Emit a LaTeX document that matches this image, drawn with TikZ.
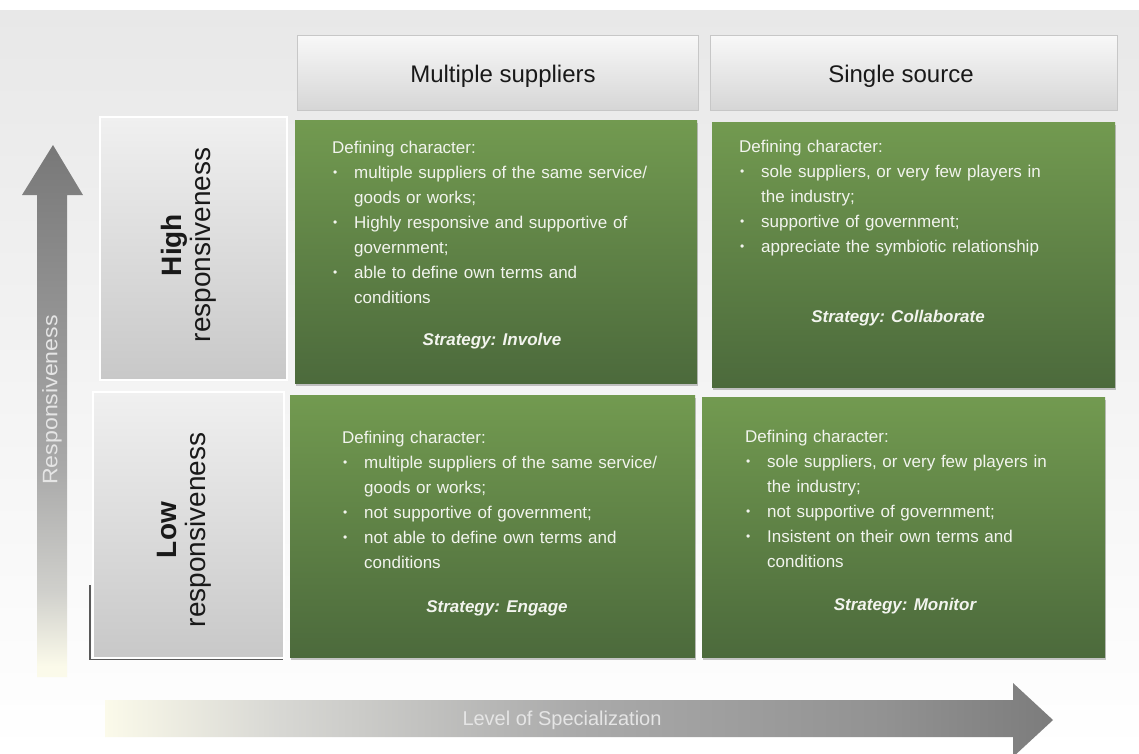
\documentclass[tikz,border=0pt]{standalone}
\usepackage{fontspec}
\setmainfont{Liberation Sans}
\usetikzlibrary{shadows}
\definecolor{bgtop}{RGB}{232,232,232}
\definecolor{gtop}{RGB}{114,154,80}
\definecolor{gbot}{RGB}{76,106,60}
\definecolor{txtw}{RGB}{242,244,238}
\definecolor{creamc}{RGB}{251,250,234}
\definecolor{ga}{RGB}{208,208,204}
\definecolor{gb}{RGB}{168,168,168}
\definecolor{gc}{RGB}{142,142,142}
\definecolor{gd}{RGB}{120,120,120}
\definecolor{ha}{RGB}{216,216,212}
\definecolor{hb}{RGB}{170,170,170}
\definecolor{hc}{RGB}{146,146,146}
\definecolor{hd}{RGB}{124,124,124}
\definecolor{hdrtop}{RGB}{248,248,248}
\definecolor{hdrbot}{RGB}{214,214,214}
\definecolor{lbltop}{RGB}{240,240,240}
\definecolor{lblbot}{RGB}{200,200,200}
\pgfdeclareverticalshading{vfade}{100bp}{color(0bp)=(creamc); color(26bp)=(creamc); color(33bp)=(ga); color(45bp)=(gb); color(62bp)=(gc); color(75bp)=(gd); color(100bp)=(gd)}
\pgfdeclarehorizontalshading{hfade}{100bp}{color(0bp)=(creamc); color(25bp)=(creamc); color(34bp)=(ha); color(50bp)=(hb); color(66bp)=(hc); color(75bp)=(hd); color(100bp)=(hd)}
\newcommand\bul{\par\hangindent=22pt\hangafter=1\noindent\makebox[22pt][l]{\hspace{1pt}\raisebox{1.5pt}{\fontsize{12}{12}\selectfont\textbullet}}}
\newcommand\nl{\hfil\break}
\begin{document}
\begin{tikzpicture}[x=1pt,y=-1pt,
  hdrbox/.style={rectangle, inner sep=0, top color=hdrtop, bottom color=hdrbot, draw=black!22, line width=0.8pt},
  lblbox/.style={rectangle, inner sep=0, top color=lbltop, bottom color=lblbot, draw=white, line width=1.5pt},
  greenbox/.style={rectangle, inner sep=0, top color=gtop, bottom color=gbot, drop shadow={shadow xshift=1pt, shadow yshift=-2.5pt, opacity=0.45}},
  hdrtxt/.style={anchor=base, inner sep=0, text=black!90, font=\fontsize{24}{28}\selectfont},
  lbltxt/.style={rotate=90, align=center, inner sep=0, text=black!90, font=\fontsize{28}{29}\selectfont},
  body/.style={anchor=base west, text width=350, align=left, inner sep=0, text=txtw, font=\fontsize{17}{25}\selectfont},
  strat/.style={anchor=base, inner sep=0, text=txtw, font=\fontsize{17}{20}\selectfont\bfseries\itshape},
  arrtxt/.style={inner sep=0, text=white!90!black}
]
\useasboundingbox (0,0) rectangle (1139,753);
\clip (0,0) rectangle (1139,753);
\fill[white] (0,0) rectangle (1139,753);
\fill[top color=bgtop, bottom color=white] (0,10) rectangle (1139,753);

% arrows
\path[shading=vfade] (37,677) -- (37,195) -- (22,195) -- (53,145) -- (83,195) -- (67,195) -- (67,677) -- cycle;
\path[shading=hfade] (105,700) -- (1013,700) -- (1013,683) -- (1053,720) -- (1013,757) -- (1013,737) -- (105,737) -- cycle;
\node[arrtxt, rotate=90, font=\fontsize{21}{24}\selectfont, xscale=1.1] (resp) at (52,400) {Responsiveness};
\node[arrtxt, font=\fontsize{20}{24}\selectfont] (spec) at (562,720) {Level of Specialization};

% header boxes
\node[hdrbox, minimum width=401, minimum height=75] (h1) at (497.5,72.5) {};
\node[hdrbox, minimum width=407, minimum height=75] (h2) at (913.5,72.5) {};
\node[hdrtxt] (h1t) at (503,82) {Multiple suppliers};
\node[hdrtxt] (h2t) at (901,82) {Single source};

% row label boxes
\draw[black!65, line width=1.6pt] (90,585) -- (90,659.5) -- (283,659.5);
\node[lblbox, minimum width=187, minimum height=263] (l1) at (193.5,248.5) {};
\node[lblbox, minimum width=191, minimum height=266] (l2) at (188.5,525) {};
\node[lbltxt] (l1t) at (189,245) {\textbf{High}\\responsiveness};
\node[lbltxt] (l2t) at (184,530) {\textbf{Low}\\responsiveness};

% green boxes
\node[greenbox, minimum width=402, minimum height=263] (g1) at (496,251.5) {};
\node[greenbox, minimum width=403, minimum height=265] (g2) at (913.5,254.5) {};
\node[greenbox, minimum width=405, minimum height=262] (g3) at (492.5,526) {};
\node[greenbox, minimum width=403, minimum height=260] (g4) at (903.5,527) {};

\node[body] (g1t) at (332,153) {\noindent Defining character:\bul multiple suppliers of the same service/\nl goods or works;\bul Highly responsive and supportive of\nl government;\bul able to define own terms and\nl conditions\par};
\node[strat] (g1s) at (492,345) {Strategy: Involve};

\node[body] (g2t) at (739,152) {\noindent Defining character:\bul sole suppliers, or very few players in\nl the industry;\bul supportive of government;\bul appreciate the symbiotic relationship\par};
\node[strat] (g2s) at (898,322) {Strategy: Collaborate};

\node[body] (g3t) at (342,443) {\noindent Defining character:\bul multiple suppliers of the same service/\nl goods or works;\bul not supportive of government;\bul not able to define own terms and\nl conditions\par};
\node[strat] (g3s) at (497,612) {Strategy: Engage};

\node[body] (g4t) at (745,442) {\noindent Defining character:\bul sole suppliers, or very few players in\nl the industry;\bul not supportive of government;\bul Insistent on their own terms and\nl conditions\par};
\node[strat] (g4s) at (905,610) {Strategy: Monitor};
\end{tikzpicture}
\end{document}
